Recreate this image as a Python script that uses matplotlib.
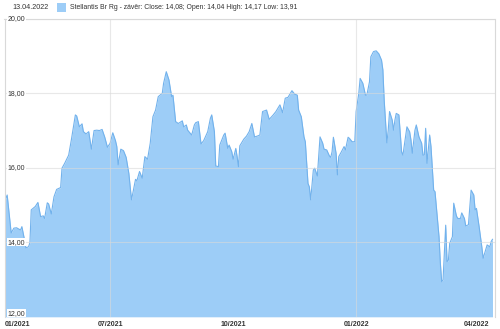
import matplotlib
matplotlib.use("Agg")
import matplotlib.pyplot as plt
import matplotlib.transforms as mtransforms
from matplotlib.patches import Rectangle
import pandas as pd

# Popisky grafu
header_date = "13.04.2022"
series_name = "Stellantis Br Rg - závěr: Close: 14,08; Open: 14,04 High: 14,17 Low: 13,91"

# Denní závěrečné ceny
dates = [
    "2021-04-13", "2021-04-15", "2021-04-18", "2021-04-20", "2021-04-22", "2021-04-25",
    "2021-04-26", "2021-04-28", "2021-04-29", "2021-05-01", "2021-05-02", "2021-05-03",
    "2021-05-06", "2021-05-08", "2021-05-10", "2021-05-12", "2021-05-13", "2021-05-15",
    "2021-05-16", "2021-05-18", "2021-05-20", "2021-05-22", "2021-05-25", "2021-05-26",
    "2021-05-28", "2021-05-31", "2021-06-02", "2021-06-05", "2021-06-06", "2021-06-08",
    "2021-06-10", "2021-06-11", "2021-06-13", "2021-06-15", "2021-06-17", "2021-06-19",
    "2021-06-21", "2021-06-23", "2021-06-25", "2021-06-27", "2021-06-29", "2021-07-01",
    "2021-07-03", "2021-07-05", "2021-07-06", "2021-07-07", "2021-07-09", "2021-07-11",
    "2021-07-13", "2021-07-15", "2021-07-17", "2021-07-18", "2021-07-20", "2021-07-21",
    "2021-07-23", "2021-07-25", "2021-07-27", "2021-07-29", "2021-07-31", "2021-08-02",
    "2021-08-04", "2021-08-06", "2021-08-09", "2021-08-10", "2021-08-12", "2021-08-14",
    "2021-08-16", "2021-08-17", "2021-08-19", "2021-08-21", "2021-08-24", "2021-08-25",
    "2021-08-27", "2021-08-28", "2021-08-31", "2021-09-02", "2021-09-03", "2021-09-05",
    "2021-09-07", "2021-09-09", "2021-09-12", "2021-09-14", "2021-09-15", "2021-09-17",
    "2021-09-18", "2021-09-20", "2021-09-21", "2021-09-24", "2021-09-25", "2021-09-27",
    "2021-09-28", "2021-09-30", "2021-10-01", "2021-10-03", "2021-10-04", "2021-10-05",
    "2021-10-06", "2021-10-09", "2021-10-11", "2021-10-13", "2021-10-15", "2021-10-17",
    "2021-10-19", "2021-10-21", "2021-10-23", "2021-10-26", "2021-10-28", "2021-10-31",
    "2021-11-02", "2021-11-05", "2021-11-07", "2021-11-09", "2021-11-11", "2021-11-14",
    "2021-11-16", "2021-11-18", "2021-11-19", "2021-11-21", "2021-11-23", "2021-11-24",
    "2021-11-26", "2021-11-27", "2021-11-28", "2021-11-30", "2021-12-01", "2021-12-03",
    "2021-12-05", "2021-12-07", "2021-12-08", "2021-12-10", "2021-12-12", "2021-12-13",
    "2021-12-14", "2021-12-15", "2021-12-17", "2021-12-18", "2021-12-19", "2021-12-21",
    "2021-12-23", "2021-12-24", "2021-12-26", "2021-12-27", "2021-12-29", "2021-12-31",
    "2022-01-01", "2022-01-03", "2022-01-04", "2022-01-06", "2022-01-08", "2022-01-09",
    "2022-01-11", "2022-01-12", "2022-01-14", "2022-01-16", "2022-01-18", "2022-01-20",
    "2022-01-21", "2022-01-22", "2022-01-24", "2022-01-25", "2022-01-26", "2022-01-28",
    "2022-01-29", "2022-01-30", "2022-01-31", "2022-02-02", "2022-02-04", "2022-02-05",
    "2022-02-08", "2022-02-10", "2022-02-11", "2022-02-12", "2022-02-14", "2022-02-15",
    "2022-02-17", "2022-02-19", "2022-02-20", "2022-02-21", "2022-02-22", "2022-02-23",
    "2022-02-25", "2022-02-26", "2022-02-28", "2022-03-01", "2022-03-02", "2022-03-04",
    "2022-03-05", "2022-03-06", "2022-03-07", "2022-03-09", "2022-03-10", "2022-03-11",
    "2022-03-12", "2022-03-14", "2022-03-15", "2022-03-17", "2022-03-18", "2022-03-20",
    "2022-03-21", "2022-03-23", "2022-03-24", "2022-03-26", "2022-03-28", "2022-03-30",
    "2022-03-31", "2022-04-01", "2022-04-03", "2022-04-05", "2022-04-06", "2022-04-08",
    "2022-04-09", "2022-04-11", "2022-04-12", "2022-04-13",
]
closes = [
    15.09, 15.27, 14.25, 14.38, 14.39, 14.33,
    14.42, 14.06, 13.85, 13.88, 13.99, 14.87,
    14.96, 15.07, 14.69, 14.71, 14.64, 15.06,
    15.03, 14.76, 15.22, 15.42, 15.47, 15.99,
    16.12, 16.34, 16.75, 17.42, 17.39, 17.10,
    17.18, 16.97, 16.91, 16.97, 16.50, 17.00,
    17.01, 17.00, 17.03, 16.82, 16.55, 16.66,
    16.94, 16.73, 16.57, 16.08, 16.50, 16.46,
    16.28, 15.85, 15.14, 15.32, 15.69, 15.65,
    15.90, 15.72, 16.30, 16.23, 16.66, 17.37,
    17.55, 17.91, 18.00, 18.27, 18.58, 18.36,
    17.91, 17.95, 17.24, 17.19, 17.26, 17.10,
    17.15, 17.01, 16.88, 17.15, 17.21, 17.24,
    16.64, 16.73, 16.97, 17.33, 17.42, 16.97,
    16.05, 16.03, 16.61, 16.88, 16.93, 16.52,
    16.61, 16.43, 16.23, 16.52, 16.30, 16.03,
    16.59, 16.77, 16.85, 16.97, 17.19, 16.83,
    16.85, 16.88, 17.51, 17.55, 17.30, 17.42,
    17.51, 17.69, 17.48, 17.87, 17.89, 18.07,
    17.98, 17.95, 17.55, 17.37, 16.83, 16.70,
    15.58, 15.49, 15.14, 15.94, 15.99, 15.78,
    16.83, 16.66, 16.50, 16.48, 16.32, 16.28,
    16.43, 16.82, 16.39, 15.81, 16.30, 16.43,
    16.57, 16.48, 16.82, 16.79, 16.70, 16.70,
    17.51, 18.00, 18.40, 18.27, 17.95, 17.95,
    18.31, 18.98, 19.12, 19.14, 19.06, 18.89,
    18.63, 17.81, 16.67, 17.01, 17.51, 17.28,
    17.01, 17.28, 17.46, 17.42, 16.43, 16.34,
    17.10, 16.97, 16.75, 16.39, 17.01, 17.15,
    16.83, 16.66, 16.34, 16.34, 17.06, 16.12,
    16.88, 16.57, 15.40, 15.36, 14.96, 14.15,
    13.44, 12.94, 12.99, 14.46, 13.48, 13.52,
    13.97, 14.15, 15.05, 14.71, 14.64, 14.64,
    14.79, 14.64, 14.44, 14.47, 15.40, 15.27,
    14.87, 14.91, 14.42, 13.88, 13.57, 13.81,
    13.93, 13.88, 14.02, 14.08,
]

# Osy
y_ticks = [12, 14, 16, 18, 20]
y_labels = ["12,00", "14,00", "16,00", "18,00", "20,00"]
x_tick_dates = ["2021-04-13", "2021-07-01", "2021-10-01", "2022-01-01", "2022-04-01"]
x_labels = ["01/2021", "07/2021", "10/2021", "01/2022", "04/2022"]
grid_dates = ["2021-07-01", "2022-01-01"]

x = pd.to_datetime(dates)
start = pd.Timestamp("2021-04-13")
end = start + pd.Timedelta(days=366.5)

fill_color = "#9dcdf7"
line_color = "#72b2ec"
grid_color = "#d9d9d9"
text_color = "#333333"
font = "Liberation Sans"

fig = plt.figure(figsize=(5, 3.29), dpi=100)
ax = fig.add_axes([4.5 / 500, 12.2 / 329, 490 / 500, 298 / 329])

ax.fill_between(x, closes, 12, color=fill_color, lw=0, zorder=1)
ax.plot(x, closes, color=line_color, lw=0.8, zorder=2)

# mřížka přes plochu
for yv in y_ticks:
    ax.axhline(yv, color=grid_color, lw=0.8, alpha=0.6, zorder=3)
for d in grid_dates:
    ax.axvline(pd.Timestamp(d), color=grid_color, lw=0.8, alpha=0.6, zorder=3)

ax.set_xlim(start, end)
ax.set_ylim(12, 20)
ax.set_xticks([])
ax.set_yticks([])
for side in ["left", "right", "top"]:
    ax.spines[side].set_color(grid_color)
    ax.spines[side].set_linewidth(0.8)
ax.spines["bottom"].set_visible(False)

# popisky osy y uvnitř grafu
ytrans = mtransforms.blended_transform_factory(ax.transAxes, ax.transData)
for yv, lab in zip(y_ticks, y_labels):
    ax.text(0.006, yv, lab, transform=ytrans, ha="left",
            va="bottom" if yv == 12 else "center",
            fontsize=5.0, family=font, color=text_color, zorder=5,
            bbox=dict(boxstyle="square,pad=0.1", fc="white", ec="none"))

# popisky osy x
xtrans = mtransforms.blended_transform_factory(ax.transData, ax.transAxes)
for i, (d, lab) in enumerate(zip(x_tick_dates, x_labels)):
    ax.text(pd.Timestamp(d), -0.026, lab, transform=xtrans,
            ha="left" if i == 0 else "center", va="center",
            fontsize=5.0, family=font, color=text_color, fontweight="bold",
            clip_on=False)

# hlavička s legendou
fig.text(12 / 500, 1 - 7.5 / 329, header_date, ha="left", va="center",
         fontsize=5.2, family=font, color=text_color)
fig.patches.append(Rectangle((57 / 500, 1 - 12 / 329), 9 / 500, 9 / 329,
                             transform=fig.transFigure, fc=fill_color, ec="none"))
fig.text(70 / 500, 1 - 7.5 / 329, series_name, ha="left", va="center",
         fontsize=4.95, family=font, color=text_color)

fig.savefig("out.png", dpi=100)
